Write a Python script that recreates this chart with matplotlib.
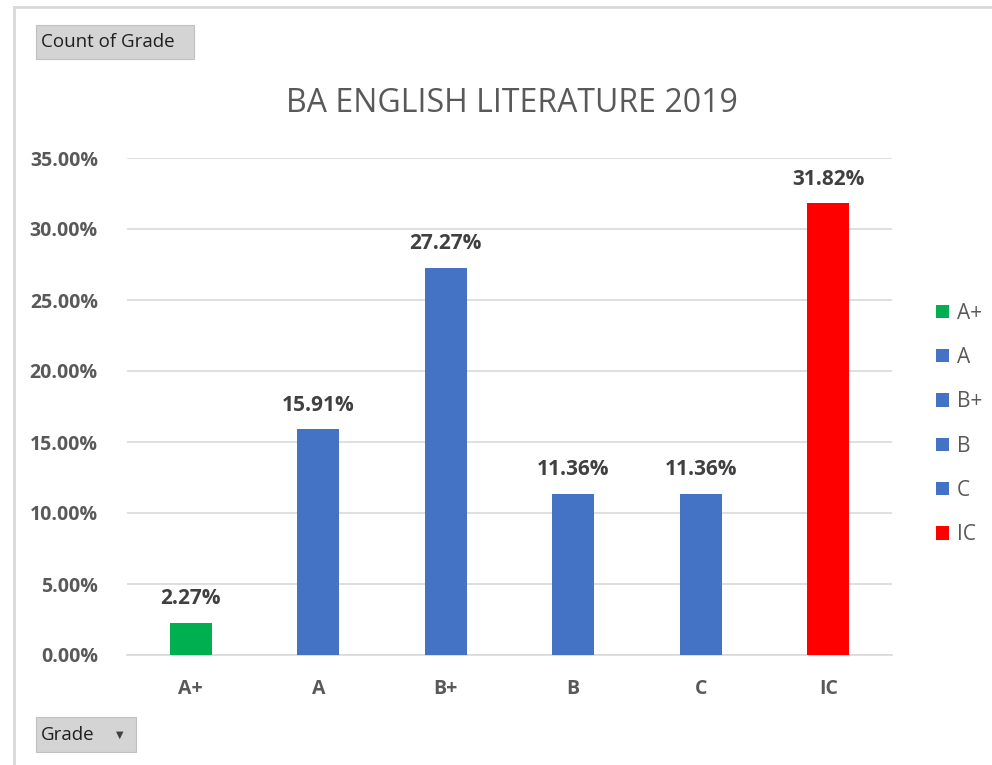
import matplotlib.pyplot as plt
from matplotlib.patches import Rectangle, Patch
from matplotlib.lines import Line2D
from matplotlib.ticker import PercentFormatter

# data
grades = ["A+", "A", "B+", "B", "C", "IC"]
shares = [2.27, 15.91, 27.27, 11.36, 11.36, 31.82]
colors = ["#00b050", "#4472c4", "#4472c4", "#4472c4", "#4472c4", "#ff0000"]

plt.rcParams["font.family"] = ["Open Sans", "DejaVu Sans"]

W, H = 992, 765
fig = plt.figure(figsize=(W / 100, H / 100), dpi=100)
ax = fig.add_axes([127 / W, 1 - 655 / H, (892 - 127) / W, (655 - 158) / H])

x = range(len(grades))
bars = ax.bar(x, shares, width=0.33, color=colors, zorder=3)

for b, v in zip(bars, shares):
    ax.text(b.get_x() + b.get_width() / 2, v + 0.95, f"{v:.2f}%",
            ha="center", va="bottom", fontsize=15, fontweight="bold",
            color="#404040")

ax.set_xlim(-0.5, len(grades) - 0.5)
ax.set_ylim(0, 35)
ax.set_yticks([0, 5, 10, 15, 20, 25, 30, 35])
ax.yaxis.set_major_formatter(PercentFormatter(decimals=2))
ax.set_xticks(list(x))
ax.set_xticklabels(grades)
ax.grid(axis="y", color="#d9d9d9", linewidth=1.2, zorder=0)
for s in ["top", "right", "left"]:
    ax.spines[s].set_visible(False)
ax.spines["bottom"].set_color("#d9d9d9")
ax.spines["bottom"].set_linewidth(1.2)
ax.tick_params(length=0, labelsize=14, labelcolor="#595959")
ax.tick_params(axis="y", pad=21)
ax.tick_params(axis="x", pad=17)
for lab in ax.get_xticklabels() + ax.get_yticklabels():
    lab.set_fontweight("bold")

fig.text(512 / W, 1 - 104 / H, "BA ENGLISH LITERATURE 2019", ha="center",
         va="center", fontsize=23, color="#595959")

# legend
handles = [Patch(facecolor=c, edgecolor="none") for c in colors]
leg = fig.legend(handles, grades, loc="center left",
                 bbox_to_anchor=(917 / W, 1 - 424 / H), frameon=False,
                 fontsize=15, labelspacing=1.12, handlelength=0.62,
                 handleheight=0.62, handletextpad=0.4)
for t in leg.get_texts():
    t.set_color("#595959")

# outer border of the chart
fig.add_artist(Line2D([14 / W, 14 / W], [0, 1 - 7 / H], color="#d9d9d9",
                      linewidth=2, transform=fig.transFigure))
fig.add_artist(Line2D([14 / W, 1], [1 - 7 / H, 1 - 7 / H], color="#d9d9d9",
                      linewidth=2, transform=fig.transFigure))

# pivot field buttons
def button(x0, y0, x1, y1, label):
    fig.add_artist(Rectangle((x0 / W, 1 - y1 / H), (x1 - x0) / W,
                             (y1 - y0) / H, transform=fig.transFigure,
                             facecolor="#d4d4d4", edgecolor="#c0c0c0",
                             linewidth=0.8))
    fig.text((x0 + 5) / W, 1 - (y0 + y1) / 2 / H, label, ha="left",
             va="center", fontsize=13.5, color="#1f1f1f")

button(36, 25, 194, 59, "Count of Grade")
button(36, 717, 136, 752, "Grade")
fig.text(120 / W, 1 - 735 / H, "▼", ha="center", va="center",
         fontsize=7, color="#404040", family="DejaVu Sans")

fig.savefig("out.png", dpi=100)
